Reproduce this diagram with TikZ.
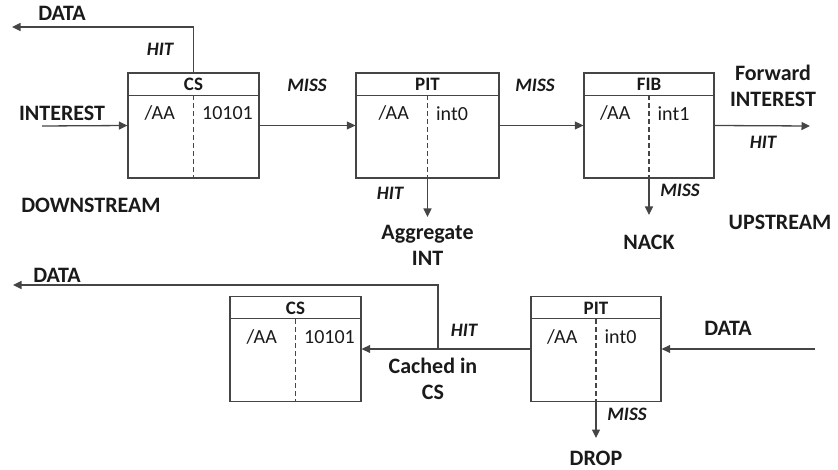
\documentclass[tikz,border=0pt]{standalone}
\usepackage{fontspec}
\setmainfont{Carlito}
\usetikzlibrary{arrows.meta}
\definecolor{lngray}{HTML}{454545}
\definecolor{txtblk}{HTML}{1A1A1A}

\begin{document}
\begin{tikzpicture}[x=1pt,y=-1pt,line width=1.3pt,
  tbl/.style={draw=lngray, minimum height=105pt, inner sep=0pt},
  tblline/.style={draw=lngray, line width=1.2pt},
  hdr/.style={text=txtblk, inner sep=0pt, font=\fontsize{19}{21}\selectfont\bfseries},
  cell/.style={text=txtblk, inner sep=0pt, font=\fontsize{20}{22}\selectfont},
  lbl/.style={text=txtblk, inner sep=0pt, align=center, font=\fontsize{22}{26}\selectfont\bfseries},
  cond/.style={text=txtblk, inner sep=0pt, font=\fontsize{19}{21}\selectfont\bfseries\itshape},
  arr/.style={draw=lngray, -{Triangle[length=8.5pt,width=8pt]}},
  wire/.style={draw=lngray}]
  \useasboundingbox (0,0) rectangle (838,470);
  % tables: name / centre x / centre y / width / title / value
  \foreach \n/\x/\y/\w/\t/\v in {cs1/193.5/125.5/131/CS/10101,
      pit1/427.5/125.5/143/PIT/int0, fib1/649/125.5/130/FIB/int1,
      cs2/295.5/349/131/CS/10101, pit2/596/349/130/PIT/int0}{
    \node[tbl, minimum width=\w pt] (\n) at (\x,\y) {};
    \draw[tblline] ([yshift=-23pt]\n.north west) -- ([yshift=-23pt]\n.north east);
    \draw[tblline, dash pattern=on 5pt off 3pt] ([yshift=-23pt]\n.north) -- (\n.south);
    \node[hdr] (\n-t) at ([yshift=-12pt]\n.north) {\t};
    \node[cell, anchor=east] (\n-k) at ([xshift=-18pt,yshift=-41pt]\n.north) {/AA};
    \node[cell, anchor=west] (\n-v) at ([xshift=8pt,yshift=-41pt]\n.north) {\v};
  }
  % free ends
  \coordinate (inin)   at (42,126);
  \coordinate (dout1)  at (12,27);
  \coordinate (fwd)    at (810,126);
  \coordinate (aggr)   at (427.5,217);
  \coordinate (nack)   at (649,215);
  \coordinate (din)    at (815,349);
  \coordinate (split)  at (438,349);
  \coordinate (dout2)  at (13,285);
  \coordinate (drop)   at (596,438);
  % interest path
  \draw[arr] (inin) -- (cs1.west);
  \draw[arr] (cs1.north) |- (dout1);
  \draw[arr] (cs1.east) -- (pit1.west);
  \draw[arr] (pit1.east) -- (fib1.west);
  \draw[arr] (fib1.east) -- (fwd);
  \draw[arr] (pit1.south) -- (aggr);
  \draw[arr] (fib1.south) -- (nack);
  % data path
  \draw[arr] (din) -- (pit2.east);
  \draw[arr] (pit2.west) -- (cs2.east);
  \draw[arr] (split) |- (dout2);
  \draw[arr] (pit2.south) -- (drop);
  % labels
  \node[lbl] (l-int)  at (62,113) {INTEREST};
  \node[lbl] (l-d1)   at (62,13) {DATA};
  \node[cond] (c-hit1) at (160,49) {HIT};
  \node[cond] (c-miss1) at (307,85) {MISS};
  \node[cond] (c-miss2) at (535,85) {MISS};
  \node[lbl] (l-fwd)  at (773,86) {Forward\\INTEREST};
  \node[cond] (c-hit2) at (763,142) {HIT};
  \node[cond] (c-hit3) at (390,193) {HIT};
  \node[lbl] (l-aggr) at (427.5,245) {Aggregate\\INT};
  \node[cond] (c-miss3) at (680,190) {MISS};
  \node[lbl] (l-nack) at (649,242) {NACK};
  \node[lbl] (l-up)   at (780,222) {UPSTREAM};
  \node[lbl] (l-down) at (91,205) {DOWNSTREAM};
  \node[lbl] (l-d2)   at (57,275) {DATA};
  \node[lbl] (l-d3)   at (728,328) {DATA};
  \node[cond] (c-hit4) at (464,330) {HIT};
  \node[lbl] (l-cach) at (433,379) {Cached in\\CS};
  \node[cond] (c-miss4) at (627,414) {MISS};
  \node[lbl] (l-drop) at (596,458) {DROP};
\end{tikzpicture}
\end{document}
